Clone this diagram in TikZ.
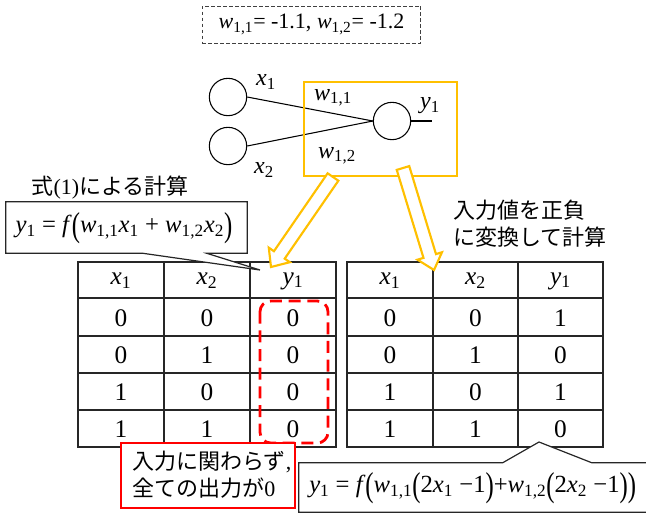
\documentclass[tikz,border=0pt]{standalone}
\usepackage{fontspec}
\usepackage{graphicx}
\setmainfont{Liberation Serif}
\newfontfamily\jp{Noto Sans CJK JP}
\usetikzlibrary{calc}
\definecolor{gold}{RGB}{255,192,0}
\newcommand{\vi}[2]{\textit{#1}\textsubscript{#2}}
\newcommand{\bp}[1]{\raisebox{-0.14em}{\scalebox{1}[1.4]{#1}}}
\newcommand{\hollowarrow}[2]{%
  \coordinate (#1h) at ($(#2)!11pt!(#1)$);
  \draw[gold, line width=1.6pt, fill=white, line join=miter]
    ($(#1)!4.9pt!90:(#2)$) -- ($(#1h)!4.9pt!90:(#2)$) -- ($(#1h)!9.6pt!90:(#2)$)
    -- (#2) -- ($(#1h)!9.6pt!-90:(#2)$) -- ($(#1h)!4.9pt!-90:(#2)$)
    -- ($(#1)!4.9pt!-90:(#2)$) -- cycle;}
\begin{document}
\begin{tikzpicture}[x=0.75pt,y=-0.75pt,
  neuron/.style={circle, draw, line width=0.8pt, minimum size=28pt, inner sep=0pt},
  lbl/.style={font=\fontsize{18}{20}\selectfont, inner sep=0pt},
  cell/.style={font=\fontsize{19}{21}\selectfont, inner sep=0pt},
  tbl/.style={line width=0.95pt, draw=black!85},
  jtext/.style={font=\fontsize{16.5}{20.5}\selectfont\jp, inner sep=0pt, align=left},
  callout/.style={draw=black!85, line width=0.9pt, fill=white},
  eq/.style={font=\fontsize{18.5}{20}\selectfont, inner sep=0pt}]
\useasboundingbox (0,0) rectangle (646,515);
\fill[white] (0,0) rectangle (646,515);
\clip (0,0) rectangle (646,515);

% weight label
\node[draw=black!75, dashed, dash pattern=on 2.5pt off 2pt, line width=0.7pt,
      minimum width=164pt, minimum height=27.75pt, inner sep=0pt,
      font=\fontsize{16.5}{18}\selectfont] (wlabel) at (311.5,24.5)
      {\vi{w}{1,1}= -1.1, \vi{w}{1,2}= -1.2};

% network
\node[neuron] (in1) at (228,97) {};
\node[neuron] (in2) at (228,146) {};
\node[neuron] (out) at (392,121) {};
\coordinate (outend) at (432,121);
\draw[line width=0.8pt] (in1.east) -- (out.west);
\draw[line width=0.8pt] (in2.east) -- (out.west);
\draw[line width=0.8pt] (out.east) -- (outend);
\node[lbl] (lx1) at (266,82) {\vi{x}{1}};
\node[lbl] (lx2) at (264,170) {\vi{x}{2}};
\node[lbl] (lw11) at (333,98) {\vi{w}{1,1}};
\node[lbl] (lw12) at (337,156) {\vi{w}{1,2}};
\node[lbl] (ly1) at (430,106) {\vi{y}{1}};
\draw[gold, line width=2.2pt] (304,82) rectangle (457,176);

% left table
\draw[tbl] (78,262) rectangle (336,447);
\draw[tbl] (164,262) -- (164,447) (250,262) -- (250,447);
\draw[tbl] (78,298) -- (336,298) (78,336) -- (336,336) (78,373) -- (336,373) (78,410) -- (336,410);
\node[cell] (LH1) at (121,281) {\vi{x}{1}};
\node[cell] (LH2) at (207,281) {\vi{x}{2}};
\node[cell] (LH3) at (293,281) {\vi{y}{1}};
\foreach \yy/\a/\b/\c [count=\r] in {318/0/0/0, 355/0/1/0, 392/1/0/0, 429/1/1/0}{
  \node[cell] (L\r a) at (121,\yy) {\a};
  \node[cell] (L\r b) at (207,\yy) {\b};
  \node[cell] (L\r c) at (293,\yy) {\c};
}
% right table
\draw[tbl] (347,262) rectangle (603,447);
\draw[tbl] (433,262) -- (433,447) (518,262) -- (518,447);
\draw[tbl] (347,298) -- (603,298) (347,336) -- (603,336) (347,373) -- (603,373) (347,410) -- (603,410);
\node[cell] (RH1) at (390,281) {\vi{x}{1}};
\node[cell] (RH2) at (475.5,281) {\vi{x}{2}};
\node[cell] (RH3) at (560.5,281) {\vi{y}{1}};
\foreach \yy/\a/\b/\c [count=\r] in {318/0/0/1, 355/0/1/0, 392/1/0/1, 429/1/1/0}{
  \node[cell] (R\r a) at (390,\yy) {\a};
  \node[cell] (R\r b) at (475.5,\yy) {\b};
  \node[cell] (R\r c) at (560.5,\yy) {\c};
}

% red dashed highlight
\draw[red, line width=2.1pt, dash pattern=on 9pt off 5pt, rounded corners=8pt] (260,301) rectangle (328,443);

% hollow arrows
\coordinate (aL) at (333,177);
\coordinate (bL) at (271,267);
\coordinate (aR) at (403,168);
\coordinate (bR) at (434,270);
\hollowarrow{aL}{bL}
\hollowarrow{aR}{bR}

% left formula callout
\node[jtext] (capA) at (110,188) {式{\rmfamily (1)}による計算};
\node[eq, minimum width=180.75pt, minimum height=38.25pt] (eqA) at (126.5,227.5) {};
\coordinate (tipA) at (260,270);
\draw[callout] (eqA.north west) -- (eqA.north east) -- (eqA.south east)
   -- ($(eqA.south west)+(201,0)$) -- (tipA) -- ($(eqA.south west)+(137,0)$)
   -- (eqA.south west) -- cycle;
\node[eq] (eqAt) at (124,228) {\vi{y}{1} = \textit{f}\bp{(}\vi{w}{1,1}\vi{x}{1} + \vi{w}{1,2}\vi{x}{2}\bp{)}};

% right caption
\node[jtext, anchor=west] (capB) at (453,223.5) {入力値を正負\\に変換して計算};

% red note
\node[draw=red, line width=0.8pt, fill=white, minimum width=130.5pt, minimum height=48.75pt,
      inner sep=0pt] (note) at (208,475.5) {};
\node[jtext, anchor=west] (notet) at (132,475) {入力に関わらず{\rmfamily ,}\\全ての出力が{\rmfamily 0}};

% bottom formula callout
\node[eq, minimum width=264.75pt, minimum height=36.75pt] (eqB) at (475.5,487.5) {};
\coordinate (tipB) at (539,442);
\draw[callout] (eqB.south west) -- (eqB.north west) -- ($(eqB.north west)+(204,0)$)
   -- (tipB) -- ($(eqB.north west)+(293,0)$) -- (eqB.north east) -- (eqB.south east) -- cycle;
\node[eq, anchor=west] (eqBt) at (309,488) {\vi{y}{1} = \textit{f}\bp{(}\vi{w}{1,1}\bp{(}2\vi{x}{1} −1\bp{)}+\vi{w}{1,2}\bp{(}2\vi{x}{2} −1\bp{)}\bp{)}};
\end{tikzpicture}
\end{document}
